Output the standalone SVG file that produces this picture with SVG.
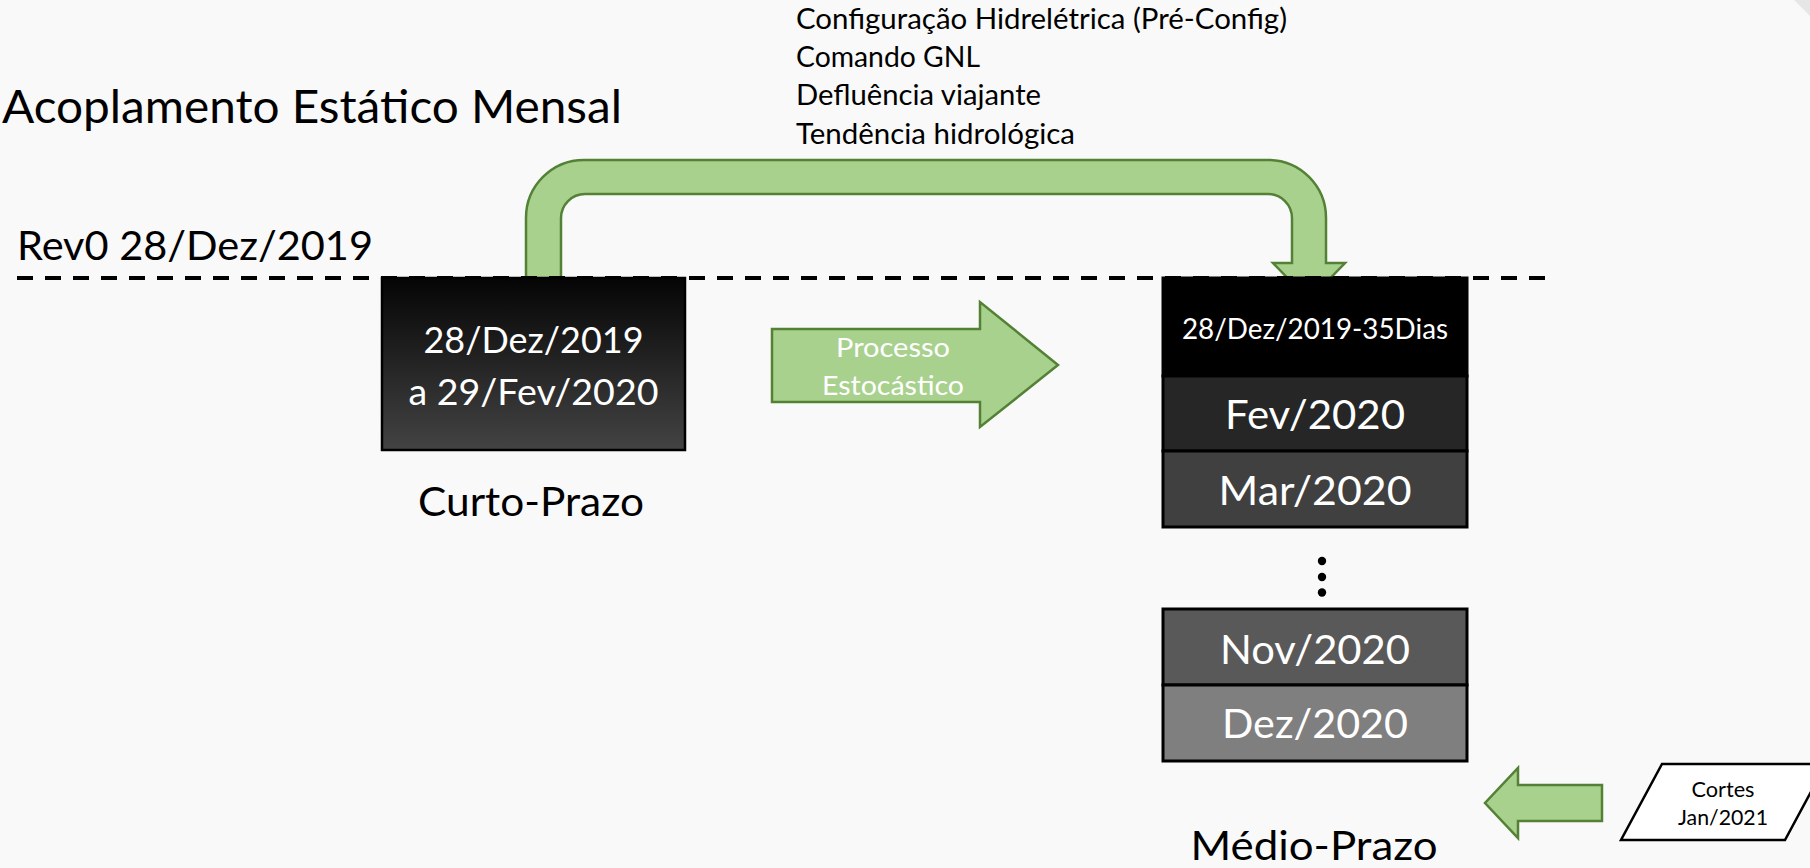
<svg xmlns="http://www.w3.org/2000/svg" width="1810" height="868" viewBox="0 0 1810 868">
<defs>
<style>
text{font-family:Lato,"Open Sans","Liberation Sans",sans-serif;}
.dk{fill:#000;}
.wt{fill:#fff;}
.green{fill:#a9d18e;stroke:#538135;stroke-width:2.5;stroke-linejoin:miter;}
.cell{stroke:#000;stroke-width:3;}
.mid{text-anchor:middle;}
</style>
<linearGradient id="gBox" x1="0" y1="0" x2="0" y2="1">
<stop offset="0" stop-color="#050505"/>
<stop offset="1" stop-color="#434343"/>
</linearGradient>
</defs>
<rect x="0" y="0" width="1810" height="868" fill="#f9f9f9"/>
<polygon points="1794,0 1810,0 1810,16" fill="#e6e6e6"/>

<g id="title">
<text x="2" y="123" font-size="46" textLength="620" lengthAdjust="spacingAndGlyphs" class="dk">Acoplamento Estático Mensal</text>
</g>
<g id="rev0">
<text x="17" y="260" font-size="41.5" textLength="356" lengthAdjust="spacingAndGlyphs" class="dk">Rev0 28/Dez/2019</text>
</g>
<g id="info-list" class="dk" font-size="28">
<text x="796" y="28.5" textLength="491" lengthAdjust="spacingAndGlyphs">Configuração Hidrelétrica (Pré-Config)</text>
<text x="796" y="67" textLength="184" lengthAdjust="spacingAndGlyphs">Comando GNL</text>
<text x="796" y="105" textLength="245" lengthAdjust="spacingAndGlyphs">Defluência viajante</text>
<text x="796" y="143.5" textLength="279" lengthAdjust="spacingAndGlyphs">Tendência hidrológica</text>
</g>

<g id="connectors">
<path id="bent-arrow" class="green" d="M526 290 L526 218 A58 58 0 0 1 584 160 L1268 160 A58 58 0 0 1 1326 218 L1326 263 L1345 263 L1309 300 L1273 263 L1292 263 L1292 218 A24 24 0 0 0 1268 194 L585 194 A24 24 0 0 0 561 218 L561 290 Z"/>
<g id="processo-arrow">
<polygon class="green" points="772,329 980,329 980,302 1058,365 980,427 980,402 772,402"/>
<text x="893" y="357" font-size="26.5" class="wt mid" textLength="114" lengthAdjust="spacingAndGlyphs">Processo</text>
<text x="893" y="395" font-size="26.5" class="wt mid" textLength="142" lengthAdjust="spacingAndGlyphs">Estocástico</text>
</g>
<polygon id="cortes-arrow" class="green" points="1602,785 1518,785 1518,768 1485,803 1518,838 1518,821 1602,821"/>
</g>

<line x1="17" y1="278" x2="1545" y2="278" stroke="#000" stroke-width="4" stroke-dasharray="16 12"/>

<g id="curto-prazo">
<rect x="382" y="278" width="303" height="172" fill="url(#gBox)" stroke="#000" stroke-width="2.5"/>
<text x="533.5" y="353" font-size="37" class="wt mid" textLength="220" lengthAdjust="spacingAndGlyphs">28/Dez/2019</text>
<text x="533.5" y="405" font-size="37" class="wt mid" textLength="250" lengthAdjust="spacingAndGlyphs">a 29/Fev/2020</text>
<text x="531" y="516" font-size="41.5" class="dk mid" textLength="226" lengthAdjust="spacingAndGlyphs">Curto-Prazo</text>
</g>

<g id="medio-prazo">
<rect class="cell" x="1163" y="278" width="304" height="98" fill="#000"/>
<rect class="cell" x="1163" y="376" width="304" height="75" fill="#262626"/>
<rect class="cell" x="1163" y="451" width="304" height="76" fill="#404040"/>
<text x="1315" y="339" font-size="28" class="wt mid" textLength="266" lengthAdjust="spacingAndGlyphs">28/Dez/2019-35Dias</text>
<text x="1315" y="429" font-size="41.5" class="wt mid" textLength="180" lengthAdjust="spacingAndGlyphs">Fev/2020</text>
<text x="1315" y="505" font-size="41.5" class="wt mid" textLength="193" lengthAdjust="spacingAndGlyphs">Mar/2020</text>
<circle cx="1322" cy="561" r="4.2" fill="#000"/>
<circle cx="1322" cy="577" r="4.2" fill="#000"/>
<circle cx="1322" cy="592.5" r="4.2" fill="#000"/>
<rect class="cell" x="1163" y="609" width="304" height="76" fill="#595959"/>
<rect class="cell" x="1163" y="685" width="304" height="76" fill="#7f7f7f"/>
<text x="1315" y="664" font-size="41.5" class="wt mid" textLength="190" lengthAdjust="spacingAndGlyphs">Nov/2020</text>
<text x="1315" y="738" font-size="41.5" class="wt mid" textLength="186" lengthAdjust="spacingAndGlyphs">Dez/2020</text>
<text x="1314" y="860" font-size="41.5" class="dk mid" textLength="247" lengthAdjust="spacingAndGlyphs">Médio-Prazo</text>
</g>

<g id="cortes">
<polygon points="1662,764 1826,764 1785,840 1621,840" fill="#fff" stroke="#000" stroke-width="2.5"/>
<text x="1723" y="797" font-size="20.5" class="dk mid" textLength="63" lengthAdjust="spacingAndGlyphs">Cortes</text>
<text x="1723" y="825" font-size="20.5" class="dk mid" textLength="90" lengthAdjust="spacingAndGlyphs">Jan/2021</text>
</g>
</svg>
